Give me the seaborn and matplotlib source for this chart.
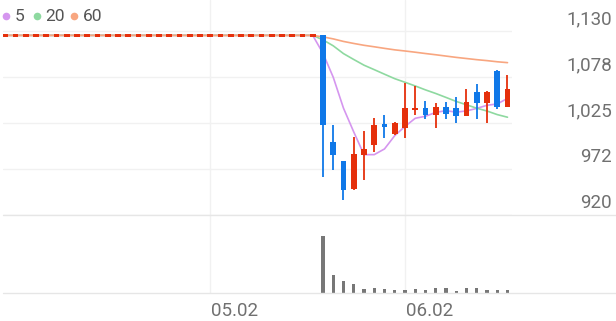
import matplotlib
matplotlib.use("Agg")
import matplotlib.pyplot as plt
import seaborn as sns
import numpy as np
import pandas as pd
from matplotlib.lines import Line2D

# ---------------- data ----------------
# pre-listing flat period (no trades): 31 slots at 1125
flat_price = 1125
n_flat = 31

opens  = [1125, 1003.7, 981.6, 949.7, 988.5, 999.9, 1023, 1012, 1019, 1040,
          1041.8, 1034.1, 1042.9, 1041.8, 1033, 1060.7, 1048.2, 1084.7, 1042.9]
highs  = [1125, 1022.7, 982, 1009.4, 1015.9, 1031, 1034, 1026, 1070.3, 1067.2,
          1050.5, 1048.2, 1049.3, 1054.3, 1063.5, 1069.5, 1061, 1085, 1079.8]
lows   = [963.7, 971.4, 937.1, 949, 960, 992.2, 1007.9, 1011, 1007.5, 1034.1,
          1029.6, 1019, 1029.6, 1024.7, 1033, 1029.2, 1024.7, 1040.6, 1043]
closes = [1022.7, 988.5, 948.5, 989.3, 995.3, 1022.7, 1021, 1024.7, 1041.8, 1042,
          1034.1, 1042.9, 1034.9, 1033, 1049.3, 1048.2, 1060.7, 1042.9, 1063.9]
volumes = [573, 183, 116, 90, 43, 50, 40, 26, 27, 40,
           26, 50, 50, 23, 46, 53, 26, 33, 26]

ma5  = [1104.5, 1077.2, 1041.9, 1014.8, 988.9, 988.9, 995.4, 1010.6, 1021.1, 1030.4,
        1032.7, 1037.1, 1039.1, 1037.4, 1038.8, 1041.7, 1045.2, 1046.8, 1053.0]
ma20 = [1119.9, 1113.1, 1104.2, 1097.5, 1091.0, 1085.9, 1080.7, 1075.6, 1071.5, 1067.3,
        1062.8, 1058.7, 1054.2, 1049.6, 1045.8, 1041.9, 1038.7, 1034.6, 1031.6]
ma60 = [1123.3, 1121.0, 1118.1, 1115.8, 1113.7, 1112.0, 1110.2, 1108.5, 1107.2, 1105.8,
        1104.3, 1102.9, 1101.4, 1099.9, 1098.6, 1097.3, 1096.2, 1094.9, 1093.9]

price_ticks = [1130, 1077.5, 1025, 972.5, 920]
price_labels = ["1,130", "1,078", "1,025", "972", "920"]
date_slots = [20, 39]
date_labels = ["05.02", "06.02"]
ma_names = ["5", "20", "60"]

# ---------------- style ----------------
sns.set_theme(style="white")
plt.rcParams["font.family"] = ["Roboto", "DejaVu Sans"]

UP = "#e5300c"
DOWN = "#0f78e8"
MA_COLORS = ["#d596ef", "#8ed9a0", "#f8a680"]
GRID = "#f1f1f1"
SEP = "#e6e6e6"
TXT = "#707070"

W, H = 616, 321
fig = plt.figure(figsize=(W / 100, H / 100), dpi=100)

def frac(x0, y0, x1, y1):
    return [x0 / W, 1 - y1 / H, (x1 - x0) / W, (y1 - y0) / H]

ax = fig.add_axes(frac(3, 0, 512, 215))
axv = fig.add_axes(frac(3, 215, 512, 293))

# full index arrays
idx_flat = np.arange(n_flat)
idx = np.arange(n_flat, n_flat + len(closes))
all_idx = np.concatenate([idx_flat, idx])

o = np.concatenate([np.full(n_flat, flat_price), opens])
h = np.concatenate([np.full(n_flat, flat_price), highs])
l = np.concatenate([np.full(n_flat, flat_price), lows])
c = np.concatenate([np.full(n_flat, flat_price), closes])

# moving averages (flat before listing)
ma_df = pd.DataFrame({
    "x": np.tile(all_idx, 3),
    "value": np.concatenate([
        np.concatenate([np.full(n_flat, flat_price), ma5]),
        np.concatenate([np.full(n_flat, flat_price), ma20]),
        np.concatenate([np.full(n_flat, flat_price), ma60]),
    ]),
    "ma": np.repeat(ma_names, len(all_idx)),
})

# grid
for t in price_ticks:
    ax.axhline(t, color=GRID, lw=1.0, zorder=0)
for d in date_slots:
    ax.axvline(d, color=GRID, lw=1.0, zorder=0)
    axv.axvline(d, color=GRID, lw=1.0, zorder=0)

sns.lineplot(data=ma_df, x="x", y="value", hue="ma", palette=MA_COLORS,
             hue_order=ma_names, ax=ax, lw=1.2, legend=False, zorder=2)

# candles
up = c >= o
colors = np.where(up, UP, DOWN)
ax.vlines(idx, l[n_flat:], h[n_flat:], colors=colors[n_flat:], lw=1.3, zorder=3)
min_h = 2.6
body_low = np.minimum(o, c)
body_h = np.maximum(np.abs(c - o), min_h)
body_low = np.where(np.abs(c - o) < min_h, (o + c) / 2 - min_h / 2, body_low)
ax.bar(all_idx, body_h, bottom=body_low, width=0.58, color=colors,
       edgecolor="none", zorder=4)

ax.set_xlim(-0.22, 49.44)
ax.set_ylim(920, 1165.4)
ax.set_xticks([])
ax.set_yticks([])
ax.set_xlabel("")
ax.set_ylabel("")
for s in ax.spines.values():
    s.set_visible(False)

# y labels
for t, lab in zip(price_ticks, price_labels):
    ax.annotate(lab, xy=(1, t), xycoords=("axes fraction", "data"),
                xytext=(72, 5), textcoords="offset points",
                ha="right", va="baseline", fontsize=13.5, color=TXT)

# volume
axv.bar(idx, volumes, width=0.33, color="#777777", edgecolor="none", zorder=3)
axv.set_xlim(-0.22, 49.44)
axv.set_ylim(0, 780)
axv.set_xticks([])
axv.set_yticks([])
axv.set_xlabel("")
axv.set_ylabel("")
for s in axv.spines.values():
    s.set_visible(False)

for d, lab in zip(date_slots, date_labels):
    axv.annotate(lab, xy=(d, 0), xycoords=("data", "axes fraction"),
                 xytext=(0.8, -16.5), textcoords="offset points",
                 ha="left", va="baseline", fontsize=13.5, color=TXT)

# separators
for yy in (215, 293):
    fig.add_artist(Line2D([3 / W, 1], [1 - yy / H, 1 - yy / H],
                          color=SEP, lw=1.0))

# legend
dot_x = [6, 37, 74]
txt_x = [15, 45, 83]
for dx, tx, col, name in zip(dot_x, txt_x, MA_COLORS, ma_names):
    fig.add_artist(Line2D([dx / W], [1 - 16 / H], marker="o", markersize=5.5,
                          color=col, markeredgewidth=0, linestyle="none"))
    fig.text(tx / W, 1 - 21 / H, name, ha="left", va="baseline",
             fontsize=12.5, color="#555555")

fig.savefig("out.png", dpi=100)
